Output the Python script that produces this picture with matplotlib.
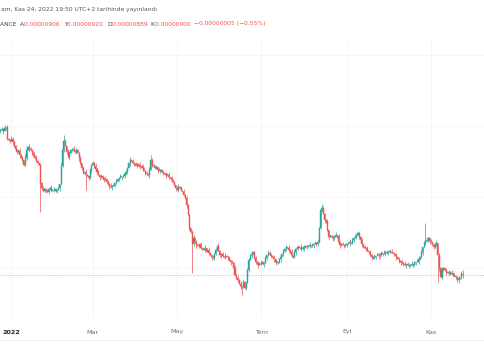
import numpy as np
import pandas as pd
import matplotlib
matplotlib.use("Agg")
import matplotlib.pyplot as plt
import matplotlib.dates as mdates
import matplotlib.transforms as mtransforms

# daily closes, price in units of 1e-8 (0.00000900 -> 900)
closes = [
    1480, 1484, 1476, 1488, 1492, 1444, 1440, 1436, 1444, 1432,
    1416, 1404, 1392, 1396, 1380, 1368, 1360, 1340, 1368, 1400,
    1412, 1404, 1400, 1388, 1376, 1368, 1356, 1348, 1340, 1268,
    1248, 1236, 1244, 1240, 1232, 1244, 1248, 1236, 1240, 1244,
    1236, 1240, 1248, 1264, 1336, 1400, 1436, 1416, 1392, 1372,
    1388, 1400, 1404, 1400, 1392, 1400, 1388, 1368, 1348, 1328,
    1308, 1312, 1300, 1296, 1288, 1320, 1340, 1348, 1336, 1324,
    1312, 1300, 1292, 1296, 1288, 1280, 1284, 1272, 1264, 1256,
    1252, 1256, 1260, 1268, 1276, 1284, 1288, 1292, 1292, 1296,
    1304, 1312, 1328, 1348, 1360, 1356, 1348, 1344, 1336, 1344,
    1340, 1332, 1336, 1328, 1316, 1308, 1304, 1300, 1320, 1360,
    1340, 1336, 1328, 1332, 1320, 1316, 1320, 1312, 1308, 1304,
    1300, 1300, 1292, 1288, 1280, 1272, 1260, 1248, 1240, 1252,
    1248, 1236, 1232, 1220, 1208, 1180, 1140, 1088, 1072, 1024,
    1048, 1032, 1020, 1016, 1024, 1008, 1004, 1000, 1008, 996,
    1000, 988, 980, 972, 968, 984, 1000, 1016, 996, 980,
    984, 976, 972, 976, 972, 968, 960, 952, 948, 928,
    900, 888, 880, 864, 856, 852, 872, 848, 868, 920,
    960, 980, 984, 992, 968, 952, 944, 940, 948, 952,
    944, 948, 968, 980, 988, 984, 976, 972, 964, 956,
    948, 952, 964, 972, 984, 996, 1004, 1012, 1008, 1000,
    992, 980, 972, 992, 1004, 1012, 1008, 1012, 1004, 1008,
    1012, 1016, 1012, 1016, 1020, 1016, 1020, 1024, 1028, 1024,
    1032, 1088, 1160, 1168, 1144, 1120, 1112, 1080, 1052, 1056,
    1052, 1048, 1052, 1060, 1056, 1032, 1020, 1024, 1020, 1016,
    1020, 1024, 1028, 1032, 1028, 1040, 1048, 1052, 1060, 1068,
    1052, 1040, 1024, 1012, 1008, 1004, 996, 992, 980, 972,
    968, 972, 976, 980, 984, 980, 988, 984, 988, 992,
    988, 992, 996, 992, 988, 984, 980, 972, 964, 956,
    952, 948, 944, 940, 944, 940, 936, 940, 944, 940,
    948, 952, 952, 964, 972, 992, 1012, 1028, 1036, 1040,
    1048, 1036, 1032, 1020, 1012, 1024, 1028, 980, 928, 892,
    920, 928, 920, 912, 908, 912, 904, 908, 900, 896,
    892, 880, 884, 892, 905, 900,
]
first_open = 1476

# wick lengths in steps of 4 units, one digit per day
upper_wicks = ("1213021132 2102312041 1320213102 1211021302 1120431203 2113021120 "
               "2031120213 1202113021 3120211302 1211302121 1302112031 2112031120 "
               "2130211023 1203121102 3121021130 2310212031 1203112021 3121302112 "
               "2031121302 1120321120 2113021203 1302112031 2011302121 3120211302 "
               "1213021120 2113021312 1120213021 1302112031 2120311202 1213021130 "
               "2031120213 1120213021 3112021302 112031")
lower_wicks = ("2130211203 1021302112 0312011203 2113021102 1203112021 3021120312 "
               "1120213021 2031120213 1302112031 2120311202 1213021130 2011302121 "
               "3120211302 1021130212 2130211021 1203121102 3112021302 1120321120 "
               "2031121302 1302112031 2113021203 1211302121 3120211302 2112031120 "
               "1320213102 1203112021 2031120213 1120431203 1211021302 3121302112 "
               "1202113021 2310212031 2113021120 213021")

# long wicks
high_spikes = {46: 1460, 109: 1380, 233: 1184, 308: 1108, 335: 920}
low_spikes = {29: 1152, 62: 1240, 139: 908, 175: 820, 317: 872, 331: 872, 335: 889}

dates = pd.date_range("2021-12-24", periods=len(closes), freq="D")
month_labels = ["2022", "Mar", "May", "Tem", "Eyl", "Kas"]
month_dates = ["2022-01-01", "2022-03-01", "2022-05-01", "2022-07-01", "2022-09-01", "2022-11-01"]

header1 = "am, Kas 24, 2022 19:50 UTC+2 tarihinde yayınlandı"
ohlc_text = [("ANCE  ", "#444444"), ("A", "#444444"), ("0.00000906  ", "#ef5350"),
             ("Y", "#444444"), ("0.00000920  ", "#ef5350"),
             ("D", "#444444"), ("0.00000889  ", "#ef5350"),
             ("K", "#444444"), ("0.00000900  ", "#ef5350"),
             ("−0.00000005 (−0.55%)", "#ef5350")]

up_col = "#26a69a"
down_col = "#ef5350"

n = len(closes)
c = np.array(closes, dtype=float)
o = np.concatenate([[first_open], c[:-1]])
up_w = np.array([int(ch) for ch in upper_wicks.replace(" ", "")][:n]) * 4.0
lo_w = np.array([int(ch) for ch in lower_wicks.replace(" ", "")][:n]) * 4.0
h = np.maximum(o, c) + up_w
l = np.minimum(o, c) - lo_w
for k, v in high_spikes.items():
    h[k] = max(h[k], v)
for k, v in low_spikes.items():
    l[k] = min(l[k], v)
o[335] = 906

x = mdates.date2num(dates)
cols = np.where(c >= o, up_col, down_col)

fig = plt.figure(figsize=(4.85, 3.6), dpi=100)
ax = fig.add_axes([0, 42 / 360, 1, 278 / 360])
ax.set_axis_off()

px_day = 1.38
x0 = x[0] - 0.29
ax.set_xlim(x0, x0 + 485 / px_day)
ax.set_ylim(728, 1840)

# grid
for yy in [1780, 1496, 1212, 928]:
    ax.axhline(yy, color="#f5f6f8", lw=0.6, zorder=0)
md = mdates.date2num(pd.to_datetime(month_dates))
for xx in md:
    ax.axvline(xx, color="#f3f4f6", lw=0.6, zorder=0)

# candles
ax.vlines(x, l, h, colors=cols, lw=0.6, alpha=0.85, zorder=2)
bottoms = np.minimum(o, c)
heights = np.maximum(np.abs(c - o), 3)
ax.bar(x, heights, bottom=bottoms, width=0.75, color=cols, edgecolor=cols, lw=0.3, zorder=3)

# last price line
ax.axhline(c[-1], color="#f4a3ab", lw=0.6, ls=(0, (1.5, 1.5)), zorder=1)

# time axis labels
trans = mtransforms.blended_transform_factory(ax.transData, fig.transFigure)
for xx, lab in zip(md, month_labels):
    ax.text(xx, 28 / 360, lab, transform=trans, ha="center", va="center",
            fontsize=4.6, color="#222222" if lab == "2022" else "#6a6d78",
            fontweight="bold" if lab == "2022" else "normal", clip_on=False)

fig.add_artist(plt.Line2D([0, 1], [20 / 360, 20 / 360], color="#eceef1", lw=0.6))

# header
fig.text(0.002, 1 - 9 / 360, header1, fontsize=4.3, color="#555555", va="center")
xpos = 0.0
r = fig.canvas.get_renderer()
for s, col in ohlc_text:
    t = fig.text(xpos, 1 - 24 / 360, s, fontsize=4.3, color=col, va="center")
    bb = t.get_window_extent(renderer=r)
    xpos += bb.width / fig.bbox.width

fig.savefig("out.png", dpi=100)
